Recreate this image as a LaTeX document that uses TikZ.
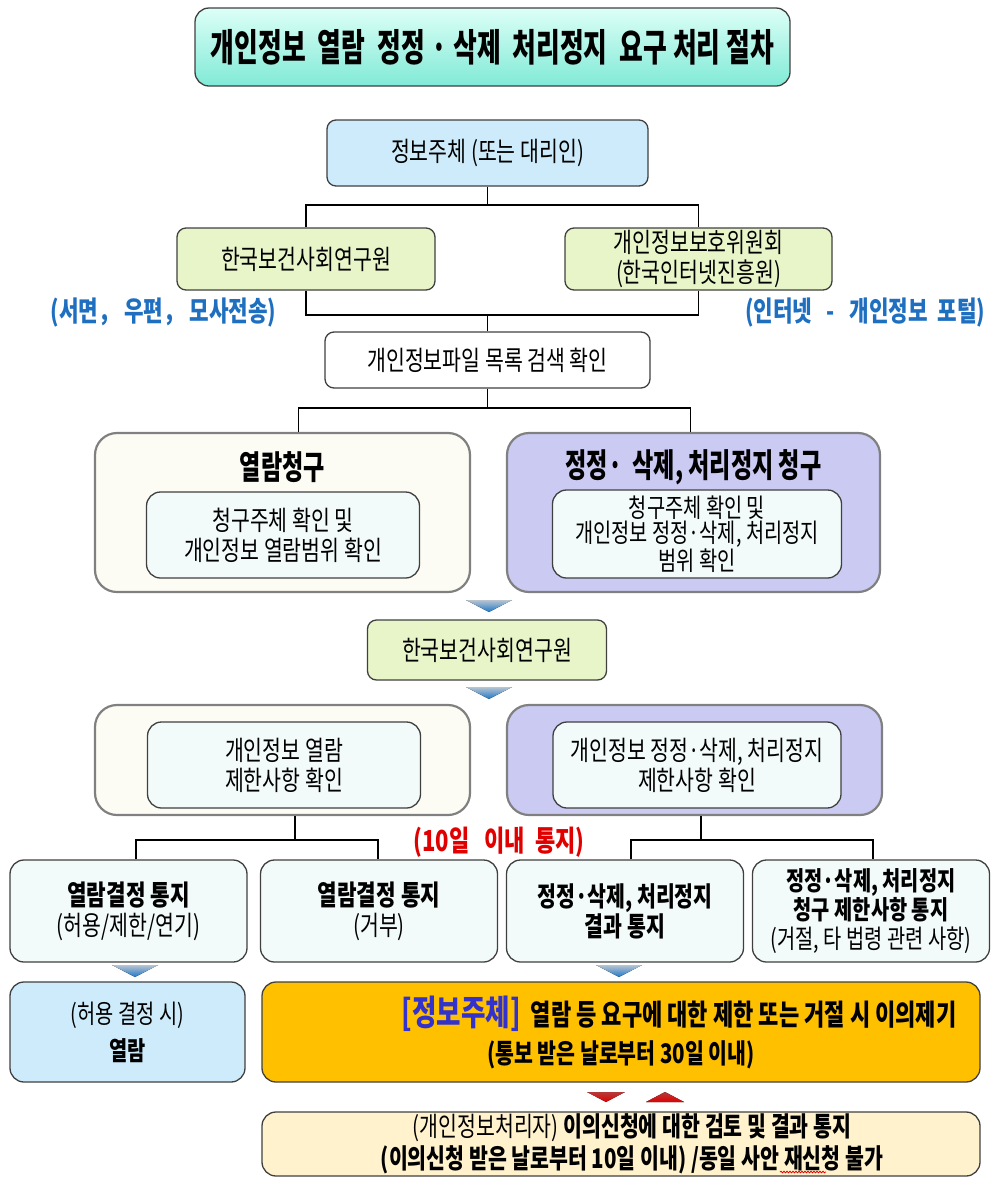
\documentclass[tikz,border=0pt]{standalone}
\usepackage{fontspec}
\newfontfamily\kr[FakeStretch=0.76]{Noto Sans CJK KR}
\newfontfamily\krh[FakeStretch=0.7]{Noto Sans CJK KR}
\newfontfamily\krt[FakeStretch=0.68]{Noto Sans CJK KR}
\usetikzlibrary{calc,decorations.pathmorphing}
\definecolor{ttop}{HTML}{DDFFF7}
\definecolor{tbot}{HTML}{80EAD6}
\definecolor{skyb}{HTML}{CDEBFA}
\definecolor{lgreen}{HTML}{E8F5C8}
\definecolor{ivory}{HTML}{FCFCF4}
\definecolor{lav}{HTML}{CACAF3}
\definecolor{icy}{HTML}{F2FAFA}
\definecolor{gold}{HTML}{FFC000}
\definecolor{cream}{HTML}{FFF2CC}
\definecolor{lblue}{HTML}{1F6FC0}
\definecolor{lred}{HTML}{E00000}
\definecolor{brk}{HTML}{3333CC}
\definecolor{tribl}{HTML}{1E78C8}
\definecolor{trilt}{HTML}{B8C4D0}
\begin{document}
\begin{tikzpicture}[x=1pt,y=-1pt,
  every node/.style={font=\kr},
  bx/.style={rounded corners=9pt, draw=black!75, line width=1.3pt, align=center, inner sep=0pt,
    font=\kr\fontsize{27}{30}\selectfont},
  big/.style={rounded corners=22pt, draw=black!50, line width=2.2pt, inner sep=0pt},
  ln/.style={line width=1.4pt, draw=black},
  lab/.style={font=\kr\bfseries\fontsize{28}{30}\selectfont, text=lblue},
  hd/.style={font=\krh\bfseries\fontsize{33}{36}\selectfont},
  tri/.style={top color=trilt, bottom color=tribl, draw=none},
  rtri/.style={top color=lred!55!gray, bottom color=lred, draw=none}
]
\useasboundingbox (0,0) rectangle (993,1179);

% title
\node[bx, rounded corners=14pt, top color=ttop, bottom color=tbot, minimum width=595pt, minimum height=78pt,
  font=\krt\bfseries\fontsize{38}{40}\selectfont] (title) at (492.5,47)
  {개인정보\ \ 열람\ \ 정정\,·\,삭제\ \ 처리정지\ \ 요구 처리 절차};

% top part
\node[bx, fill=skyb, minimum width=321pt, minimum height=66pt] (A) at (487.5,153) {정보주체 (또는 대리인)};
\node[bx, fill=lgreen, minimum width=258pt, minimum height=62pt] (B) at (306,259) {한국보건사회연구원};
\node[bx, fill=lgreen, minimum width=267pt, minimum height=62pt] (C) at (698.5,259) {개인정보보호위원회\\(한국인터넷진흥원)};
\node[bx, fill=white, minimum width=325pt, minimum height=56pt] (D) at (487.5,360) {개인정보파일 목록 검색 확인};

\node[lab, anchor=west] (labL) at (47,313) {(서면，\ 우편，\ 모사전송)};
\node[lab, anchor=east] (labR) at (989,313) {(인터넷\ \ \ -\ \ \ 개인정보\ \ 포털)};

\coordinate (j1) at (487.5,205);
\coordinate (j2) at (487.5,315);
\draw[ln] (A.south) -- (j1);
\draw[ln] (B.north) |- (j1) -| (C.north);
\draw[ln] (B.south) |- (j2) -| (C.south);
\draw[ln] (j2) -- (D.north);

% request boxes
\node[big, fill=ivory, minimum width=375pt, minimum height=159pt] (E) at (282.5,512.5) {};
\node[big, fill=lav, minimum width=373pt, minimum height=159pt] (F) at (693.5,512.5) {};
\node[hd] (Et) at (282.5,467) {열람청구};
\node[hd] (Ft) at (693.5,467) {정정·\ \ 삭제, 처리정지 청구};
\node[bx, rounded corners=14pt, fill=icy, minimum width=273pt, minimum height=86pt] (Ei) at (283,535)
  {청구주체 확인 및\\개인정보 열람범위 확인};
\node[bx, rounded corners=14pt, fill=icy, minimum width=289pt, minimum height=88pt,
  font=\kr\fontsize{26}{25.5}\selectfont] (Fi) at (697,534)
  {청구주체 확인 및\\개인정보 정정·삭제, 처리정지\\범위 확인};

\coordinate (j3) at (487.5,408);
\draw[ln] (D.south) -- (j3);
\draw[ln] ($(E.north)+(16,0)$) |- (j3) -| ($(F.north)+(-3,0)$);

% middle
\fill[tri] (466,600) -- (512,600) -- (489,612) -- cycle;
\node[bx, fill=lgreen, minimum width=239pt, minimum height=60pt] (G) at (487,650) {한국보건사회연구원};
\fill[tri] (466,687) -- (512,687) -- (489,699) -- cycle;

\node[big, fill=ivory, minimum width=375pt, minimum height=110pt] (H) at (282.5,760) {};
\node[big, fill=lav, minimum width=375pt, minimum height=110pt] (I) at (694.5,760) {};
\node[bx, rounded corners=14pt, fill=icy, minimum width=273pt, minimum height=86pt] (Hi) at (284,765)
  {개인정보 열람\\제한사항 확인};
\node[bx, rounded corners=14pt, fill=icy, minimum width=288pt, minimum height=86pt] (Ii) at (697,765)
  {개인정보 정정·삭제, 처리정지\\제한사항 확인};

% bottom row
\node[bx, rounded corners=14pt, fill=icy, minimum width=237pt, minimum height=102pt] (J) at (128.5,911)
  {{\bfseries\fontsize{28}{30}\selectfont 열람결정 통지}\\(허용/제한/연기)};
\node[bx, rounded corners=14pt, fill=icy, minimum width=237pt, minimum height=102pt] (K) at (379,911)
  {{\bfseries\fontsize{28}{30}\selectfont 열람결정 통지}\\(거부)};
\node[bx, rounded corners=14pt, fill=icy, minimum width=237pt, minimum height=102pt] (L) at (625,911)
  {{\bfseries 정정·삭제, 처리정지}\\{\bfseries 결과 통지}};
\node[bx, rounded corners=14pt, fill=icy, minimum width=237pt, minimum height=102pt,
  font=\kr\fontsize{26}{29}\selectfont] (M) at (871,911)
  {{\bfseries 정정·삭제, 처리정지}\\{\bfseries 청구 제한사항 통지}\\(거절, 타 법령 관련 사항)};

\coordinate (j4) at (295,840);
\coordinate (j5) at (701,840);
\draw[ln] (j4 |- H.south) -- (j4);
\draw[ln] ($(J.north)+(7.5,0)$) |- (j4) -| ($(K.north)+(-1,0)$);
\draw[ln] (j5 |- I.south) -- (j5);
\draw[ln] ($(L.north)+(6,0)$) |- (j5) -| ($(M.north)+(2,0)$);

\node[font=\kr\bfseries\fontsize{29}{30}\selectfont, text=lred] (ten) at (499,842) {(10일\ \ \ 이내\ \ 통지)};

\fill[tri] (112,965) -- (158,965) -- (135,977) -- cycle;
\fill[tri] (596,965) -- (642,965) -- (619,977) -- cycle;

% final boxes
\node[bx, rounded corners=14pt, fill=skyb, minimum width=235pt, minimum height=100pt,
  font=\kr\fontsize{26}{37}\selectfont] (N) at (127.5,1032) {(허용 결정 시)\\{\bfseries 열람}};
\node[bx, rounded corners=14pt, fill=gold, minimum width=718pt, minimum height=100pt,
  font=\kr\bfseries\fontsize{29}{38}\selectfont] (O) at (621,1032)
  {\hspace*{116pt}{\color{brk}\fontsize{35}{36}\selectfont [정보주체]}\ \ 열람 등 요구에 대한 제한 또는 거절 시 이의제기\\{\fontsize{27}{30}\selectfont (통보 받은 날로부터 30일 이내)}};

\fill[rtri] (587,1092) -- (625,1092) -- (606,1102) -- cycle;
\fill[rtri] (646,1102) -- (684,1102) -- (665,1092) -- cycle;

\node[bx, rounded corners=14pt, fill=cream, minimum width=718pt, minimum height=64pt,
  font=\kr\bfseries\fontsize{27}{32}\selectfont] (P) at (621,1144)
  {\hspace*{22pt}{\mdseries (개인정보처리자)} 이의신청에 대한 검토 및 결과 통지\\\hspace*{22pt}(이의신청 받은 날로부터 10일 이내)\ /동일 사안 재신청 불가};
\draw[lred, line width=0.8pt, decorate, decoration={snake, amplitude=0.8pt, segment length=3pt}]
  (780,1172) -- (826,1172);
\end{tikzpicture}
\end{document}
